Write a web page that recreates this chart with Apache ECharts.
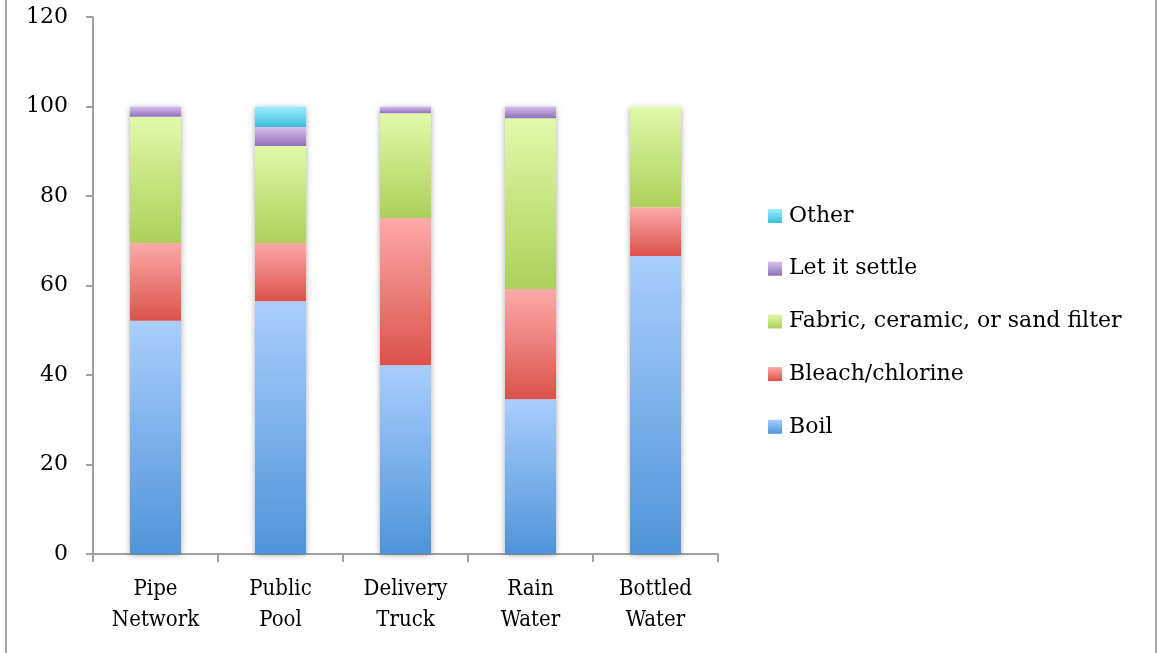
<!DOCTYPE html>
<html>
<head>
<meta charset="utf-8">
<script src="https://cdn.jsdelivr.net/npm/echarts@6/dist/echarts.min.js"></script>
<style>
html,body{margin:0;padding:0;background:#fff;}
#chart{width:1158px;height:653px;}
</style>
</head>
<body>
<div id="chart"></div>
<script>
const categories = ['Pipe\nNetwork', 'Public\nPool', 'Delivery\nTruck', 'Rain\nWater', 'Bottled\nWater'];
const boil = [52.1, 56.5, 42.2, 34.6, 66.6];
const bleach = [17.4, 13.0, 32.9, 24.6, 10.9];
const filter = [28.2, 21.7, 23.4, 38.2, 22.5];
const settle = [2.3, 4.2, 1.5, 2.6, 0];
const other = [0, 4.6, 0, 0, 0];
const yTicks = [0, 20, 40, 60, 80, 100, 120];

const FONT = '"DejaVu Serif", "Liberation Serif", serif';
const XFONT = '"DejaVu Serif Condensed", "Liberation Serif", serif';

function grad(top, bottom) {
  return new echarts.graphic.LinearGradient(0, 0, 0, 1, [
    { offset: 0, color: top },
    { offset: 1, color: bottom }
  ]);
}

const seriesDefs = [
  { name: 'Boil', data: boil, color: grad('#a9cefd', '#4f94d8') },
  { name: 'Bleach/chlorine', data: bleach, color: grad('#fdaaa8', '#db5249') },
  { name: 'Fabric, ceramic, or sand filter', data: filter, color: grad('#e1f9aa', '#acd05a') },
  { name: 'Let it settle', data: settle, color: grad('#d5c0ed', '#9270ba') },
  { name: 'Other', data: other, color: grad('#9eeefc', '#3cbfdc') }
];

const totals = categories.map((c, i) => seriesDefs.reduce((s, d) => s + d.data[i], 0));

const series = [{
  name: 'shadow',
  type: 'bar',
  data: totals,
  barWidth: 51,
  barGap: '-100%',
  z: 1,
  silent: true,
  itemStyle: { color: '#fff', shadowBlur: 6, shadowColor: 'rgba(0,0,0,0.35)', shadowOffsetX: 0, shadowOffsetY: 1 }
}].concat(seriesDefs.map(d => ({
  name: d.name,
  type: 'bar',
  stack: 'total',
  data: d.data,
  barWidth: 51,
  z: 2,
  itemStyle: { color: d.color }
})));

const chart = echarts.init(document.getElementById('chart'), null, { renderer: 'canvas' });
chart.setOption({
  animation: false,
  backgroundColor: '#fff',
  grid: { left: 93, right: 440, top: 17, bottom: 99 },
  legend: {
    orient: 'vertical',
    left: 768,
    top: 204,
    padding: 0,
    data: ['Other', 'Let it settle', 'Fabric, ceramic, or sand filter', 'Bleach/chlorine', 'Boil'],
    icon: 'rect',
    itemWidth: 14,
    itemHeight: 14,
    itemGap: 28.7,
    textStyle: { fontFamily: FONT, fontSize: 22, color: '#000', lineHeight: 24, padding: [0, 0, 0, 2] }
  },
  xAxis: {
    type: 'category',
    data: categories,
    axisLine: { lineStyle: { color: '#a0a0a0', width: 2 } },
    axisTick: { show: true, length: 8, alignWithLabel: false, lineStyle: { color: '#a0a0a0', width: 2 } },
    axisLabel: { interval: 0, fontFamily: XFONT, fontSize: 22, color: '#000', lineHeight: 31, margin: 20 }
  },
  yAxis: {
    type: 'value',
    min: yTicks[0],
    max: yTicks[yTicks.length - 1],
    interval: 20,
    axisLine: { show: true, lineStyle: { color: '#a0a0a0', width: 2 } },
    axisTick: { show: true, length: 7, lineStyle: { color: '#a0a0a0', width: 2 } },
    splitLine: { show: false },
    axisLabel: { fontFamily: FONT, fontSize: 22, color: '#000', margin: 25 }
  },
  graphic: [
    { type: 'line', shape: { x1: 6, y1: 0, x2: 6, y2: 653 }, style: { stroke: '#a8a8a8', lineWidth: 2 } },
    { type: 'line', shape: { x1: 1156, y1: 0, x2: 1156, y2: 653 }, style: { stroke: '#a8a8a8', lineWidth: 2 } }
  ],
  series: series
});
</script>
</body>
</html>
